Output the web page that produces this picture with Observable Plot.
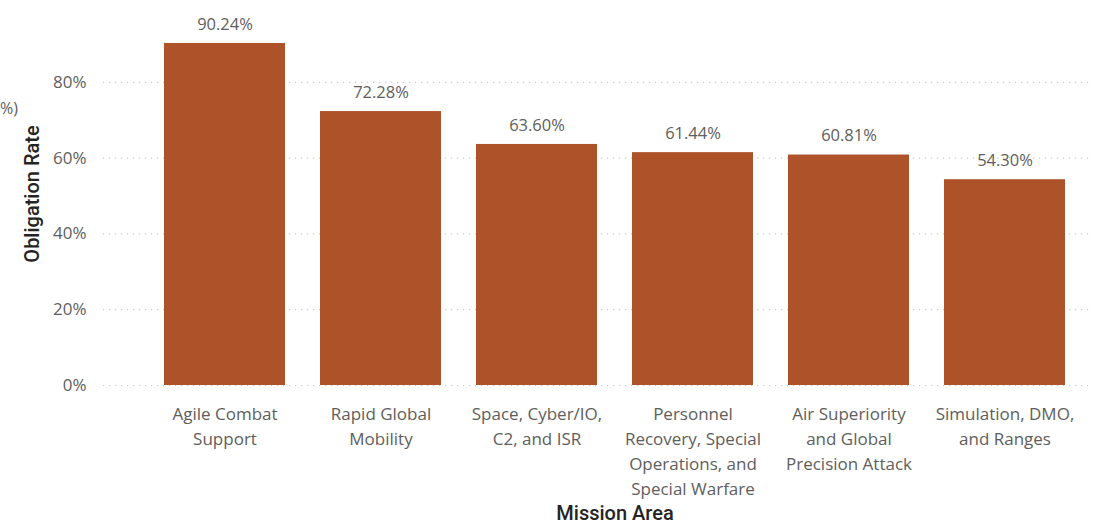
<!DOCTYPE html>
<html>
<head>
<meta charset="utf-8">
<script src="https://cdn.jsdelivr.net/npm/d3@7"></script>
<script src="https://cdn.jsdelivr.net/npm/@observablehq/plot@0.6"></script>
<style>
  html, body { margin: 0; padding: 0; background: #fff; }
  #wrap { position: relative; width: 1099px; height: 526px; overflow: hidden; font-family: "Open Sans", "Noto Sans", sans-serif; }
  .ov { position: absolute; white-space: nowrap; }
  #ytitle { left: 32px; top: 194px; transform: translate(-50%, -50%) rotate(-90deg); font-family: "Roboto", "DejaVu Sans Condensed", sans-serif; font-weight: 500; font-size: 20px; color: #252423; }
  #xtitle { left: 615px; top: 513px; transform: translate(-50%, -50%); font-family: "Roboto", "DejaVu Sans Condensed", sans-serif; font-weight: 500; font-size: 20px; color: #252423; }
  #clip { left: 0px; top: 108px; transform: translateY(-50%); font-size: 16px; color: #605E5C; }
</style>
</head>
<body>
<div id="wrap">
  <div id="chart"></div>
  <div class="ov" id="ytitle">Obligation Rate</div>
  <div class="ov" id="xtitle">Mission Area</div>
  <div class="ov" id="clip">%)</div>
</div>
<script>
const categories = [
  "Agile Combat Support",
  "Rapid Global Mobility",
  "Space, Cyber/IO, C2, and ISR",
  "Personnel Recovery, Special Operations, and Special Warfare",
  "Air Superiority and Global Precision Attack",
  "Simulation, DMO, and Ranges"
];
const tickLabels = [
  "Agile Combat\nSupport",
  "Rapid Global\nMobility",
  "Space, Cyber/IO,\nC2, and ISR",
  "Personnel\nRecovery, Special\nOperations, and\nSpecial Warfare",
  "Air Superiority\nand Global\nPrecision Attack",
  "Simulation, DMO,\nand Ranges"
];
const values = [90.24, 72.28, 63.60, 61.44, 60.81, 54.30];
const yTicks = [0, 20, 40, 60, 80];

const data = categories.map((c, i) => ({category: c, value: values[i]}));
const labelOf = new Map(categories.map((c, i) => [c, tickLabels[i]]));

const chart = Plot.plot({
  width: 1099,
  height: 526,
  marginLeft: 103,
  marginRight: 7,
  marginTop: 6,
  marginBottom: 141,
  style: {fontFamily: "'Open Sans', 'Noto Sans', sans-serif", fontSize: "16px", color: "#605E5C", background: "#fff"},
  x: {domain: categories, paddingInner: 0.223, paddingOuter: 0.279, align: 0.7, label: null},
  y: {domain: [0, 100], label: null},
  marks: [
    Plot.ruleY(yTicks, {stroke: "#c8c8c8", strokeWidth: 1.2, strokeDasharray: "1.2,4.8"}),
    Plot.barY(data, {x: "category", y: "value", fill: "#AD5229"}),
    Plot.text(data, {x: "category", y: "value", text: d => d.value.toFixed(2) + "%", dy: -19, lineAnchor: "middle", fill: "#605E5C", fontSize: 16.5}),
    Plot.axisY({ticks: yTicks, tickSize: 0, tickPadding: 17, tickFormat: d => d + "%", label: null, fontSize: 17, fill: "#605E5C"}),
    Plot.axisX({tickSize: 0, tickPadding: 17, tickFormat: d => labelOf.get(d), lineHeight: 1.47, label: null, fontSize: 17, fill: "#605E5C"})
  ]
});
document.getElementById("chart").appendChild(chart);
</script>
</body>
</html>
